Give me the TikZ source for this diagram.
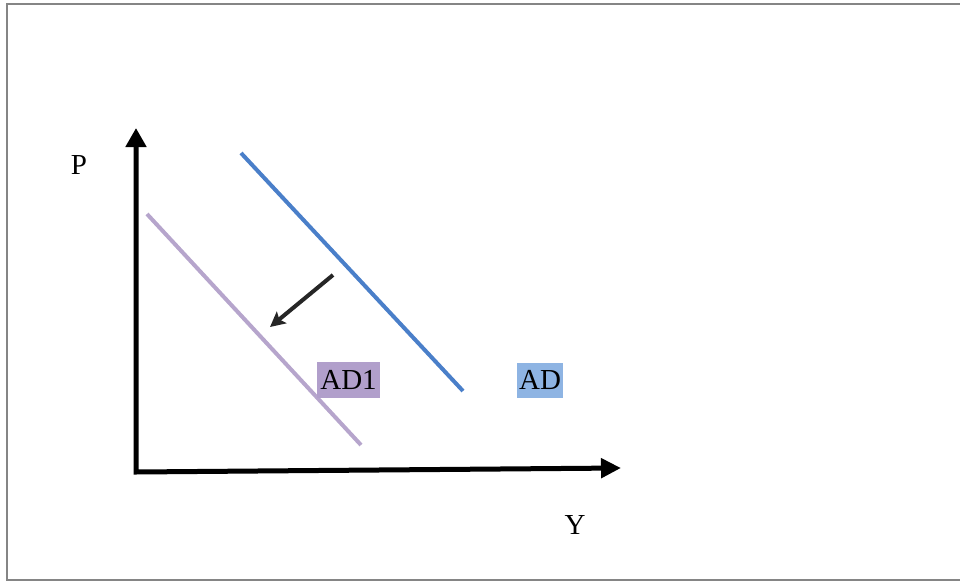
\documentclass[tikz,border=0pt]{standalone}
\usepackage{fontspec}
\setmainfont{Liberation Serif}
\usepackage{tikz}
\usetikzlibrary{arrows.meta}
\definecolor{FrameGray}{HTML}{858585}
\definecolor{CurveBlue}{HTML}{4A7FC9}
\definecolor{CurveLilac}{HTML}{B6A5CC}
\definecolor{TagBlue}{HTML}{8EB4E3}
\definecolor{TagLilac}{HTML}{B19FCB}
\definecolor{ShiftGray}{HTML}{262626}

\begin{document}
\begin{tikzpicture}[x=1pt, y=-1pt, every node/.style={font=\fontsize{29}{33}\selectfont}]
  \useasboundingbox (0,0) rectangle (960,583);
  % frame (right side runs off the picture)
  \draw[FrameGray, line width=2.5pt] (965,4) -- (7,4) -- (7,580) -- (965,580);
  % axes
  \coordinate (origin) at (136,472);
  \coordinate (ytip) at (136,128);
  \coordinate (xtip) at (621,468);
  \draw[line width=5pt, line join=miter, {Triangle[length=19pt,width=20pt]}-{Triangle[length=20pt,width=19pt]}] (ytip) -- (origin) -- (xtip);
  \node (P) at (79,165) {P};
  \node (Y) at (575,525) {Y};
  % demand curves
  \coordinate (adtop) at (241,153);
  \coordinate (adbot) at (463,391);
  \coordinate (adonetop) at (147,214);
  \coordinate (adonebot) at (361,445);
  \draw[CurveBlue, line width=4pt] (adtop) -- (adbot);
  \draw[CurveLilac, line width=4pt] (adonetop) -- (adonebot);
  \node[fill=TagLilac, inner xsep=3.5pt, inner ysep=0pt, minimum height=36pt] (adone) at (348.5,380) {AD1};
  \node[fill=TagBlue, inner xsep=2.5pt, inner ysep=0pt, minimum height=35pt] (ad) at (540,380) {AD};
  % shift
  \coordinate (shiftfrom) at (333,275);
  \coordinate (shiftto) at (270,327);
  \draw[ShiftGray, line width=4pt, -{Stealth[length=15pt,width=15pt,inset=3pt]}] (shiftfrom) -- (shiftto);
\end{tikzpicture}
\end{document}
